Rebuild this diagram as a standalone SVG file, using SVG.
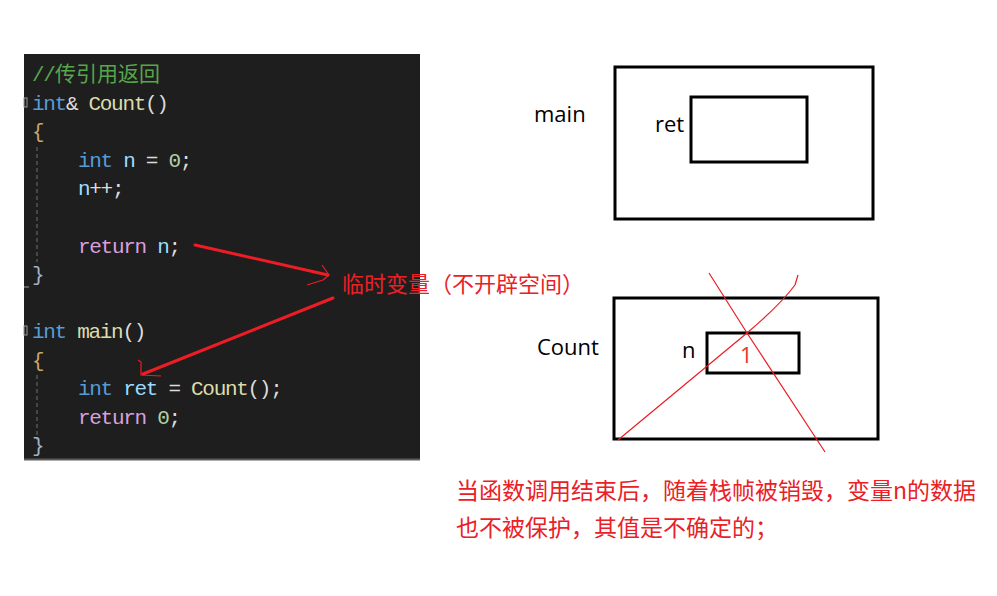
<svg xmlns="http://www.w3.org/2000/svg" width="997" height="596" viewBox="0 0 997 596">
<style>
.code{font-family:"Liberation Mono","DejaVu Sans Mono",monospace;font-size:21px;letter-spacing:-1.3px;fill:#dcdcdc}
.cjk{font-family:"Noto Sans CJK SC","Noto Sans CJK JP",sans-serif;font-size:21px;letter-spacing:0}
.kw{fill:#569cd6}.fn{fill:#dcdcaa}.var{fill:#9cdcfe}.rt{fill:#d8a0df}.num{fill:#b5cea8}.cm{fill:#57a64a}.br{fill:#c9a66b}.br2{fill:#9fb3c8}
.lbl{font-family:"Open Sans","Noto Sans",sans-serif;font-size:22px;fill:#000}
.red{font-family:"Noto Sans CJK SC","Noto Sans CJK JP",sans-serif;fill:#ea2027}
.box{fill:none;stroke:#000;stroke-width:3}
.arrow{stroke:#ee1c24;stroke-width:3;fill:none;stroke-linecap:round}
.thin{stroke:#ee1c24;stroke-width:1.2;fill:none;stroke-linejoin:round}
.guide{stroke:#5e5e5e;stroke-width:1.3;stroke-dasharray:4 3}
</style>
<rect x="0" y="0" width="997" height="596" fill="#ffffff"/>

<g id="code-panel">
  <rect x="24" y="54" width="396" height="406" fill="#1e1e1e"/>
  <line x1="24" y1="459.5" x2="420" y2="459.5" stroke="#5b5b5b" stroke-width="2"/>
  <rect x="24" y="98" width="3" height="9" fill="none" stroke="#9a9a9a" stroke-width="1"/>
  <rect x="24" y="326" width="3" height="9" fill="none" stroke="#9a9a9a" stroke-width="1"/>
  <line x1="24" y1="287" x2="29" y2="287" stroke="#8a8a8a" stroke-width="1.2"/>
  <line class="guide" x1="37" y1="147" x2="37" y2="262"/>
  <line class="guide" x1="37" y1="375" x2="37" y2="440"/>
  <text class="code" xml:space="preserve"><tspan class="cm" x="32" y="81">//</tspan><tspan class="cm cjk" x="55" y="81">传引用返回</tspan></text>
  <text class="code" x="32" y="109.5" xml:space="preserve"><tspan class="kw">int</tspan>&amp; <tspan class="fn">Count</tspan>()</text>
  <text class="code br" x="32" y="138">{</text>
  <text class="code" x="78" y="166.5" xml:space="preserve"><tspan class="kw">int</tspan> <tspan class="var">n</tspan> = <tspan class="num">0</tspan>;</text>
  <text class="code" x="78" y="195" xml:space="preserve"><tspan class="var">n</tspan>++;</text>
  <text class="code" x="78" y="252.5" xml:space="preserve"><tspan class="rt">return</tspan> <tspan class="var">n</tspan>;</text>
  <text class="code br2" x="32" y="281">}</text>
  <text class="code" x="32" y="338" xml:space="preserve"><tspan class="kw">int</tspan> <tspan class="fn">main</tspan>()</text>
  <text class="code br" x="32" y="366.5">{</text>
  <text class="code" x="78" y="395" xml:space="preserve"><tspan class="kw">int</tspan> <tspan class="var">ret</tspan> = <tspan class="fn">Count</tspan>();</text>
  <text class="code" x="78" y="423.5" xml:space="preserve"><tspan class="rt">return</tspan> <tspan class="num">0</tspan>;</text>
  <text class="code br2" x="32" y="452">}</text>
</g>

<g id="connectors">
  <line class="arrow" x1="195" y1="245" x2="328" y2="275"/>
  <polyline class="thin" points="322,265 329,275 323,280 307,285"/>
  <line class="arrow" x1="333" y1="298" x2="143" y2="374"/>
  <polyline class="thin" points="138,360 141,362 141,375 161,376"/>
</g>

<g id="temp-label">
  <text class="red" x="342" y="292" font-size="22">临时变量（不开辟空间）</text>
</g>

<g id="main-frame">
  <rect class="box" x="615" y="67" width="258" height="152"/>
  <text class="lbl" x="534" y="122">main</text>
</g>
<g id="ret-box">
  <rect class="box" x="691" y="97" width="116" height="65"/>
  <text class="lbl" x="655" y="132">ret</text>
</g>

<g id="count-frame">
  <rect class="box" x="614" y="298" width="264" height="141"/>
  <text class="lbl" x="537" y="355">Count</text>
</g>
<g id="n-box">
  <rect class="box" x="707" y="333" width="92" height="40"/>
  <text class="lbl" x="682" y="358">n</text>
  <text class="lbl" x="740" y="363" style="fill:#e8352a">1</text>
</g>

<g id="cross">
  <path class="thin" d="M709,273 L747,333 L825,452"/>
  <path class="thin" d="M798,275 L795,285 Q780,305 747,333 L618,440"/>
</g>

<g id="note">
  <text class="red" x="456" y="499" font-size="23">当函数调用结束后，随着栈帧被销毁，变量n的数据</text>
  <text class="red" x="456" y="536" font-size="23">也不被保护，其值是不确定的；</text>
</g>
</svg>
